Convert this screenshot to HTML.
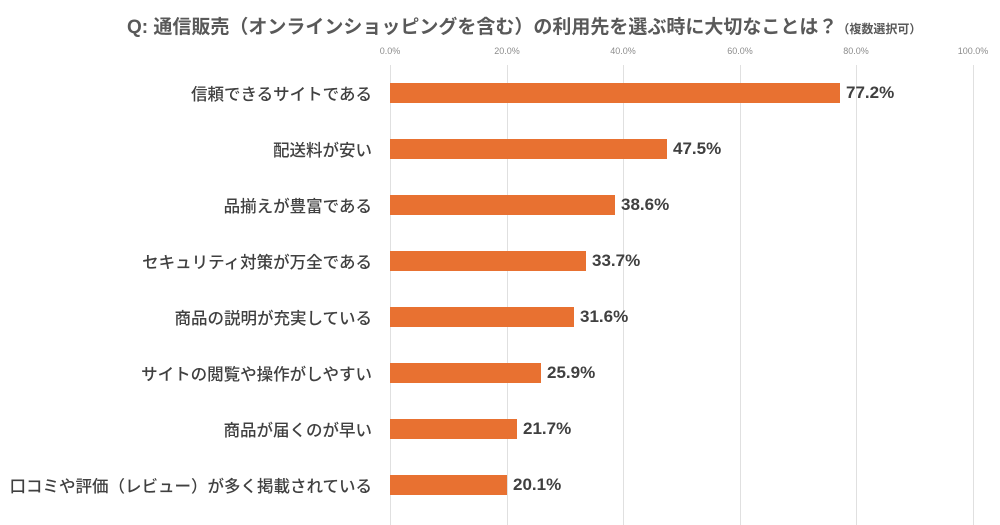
<!DOCTYPE html>
<html><head><meta charset="utf-8"><style>
body{margin:0;width:1000px;height:525px;background:#fff;overflow:hidden;font-family:"Liberation Sans","Noto Sans CJK JP",sans-serif;position:relative}
.t{position:absolute;left:127px;top:12px;font-size:19px;font-weight:bold;color:#595959;white-space:nowrap}
.t small{font-size:12px}
.tk{position:absolute;top:46px;font-size:9px;color:#8c8c8c;transform:translateX(-50%)}
.g{position:absolute;top:65px;height:460px;width:1px;background:#e0e0e0}
.l{position:absolute;right:628px;font-size:16.5px;font-weight:500;color:#404040;white-space:nowrap;transform:translateY(-50%)}
.b{position:absolute;left:390px;height:20px;background:#e87131;transform:translateY(-50%)}
.v{position:absolute;font-size:17px;font-weight:bold;color:#404040;transform:translateY(-50%)}
</style></head><body>
<div class="t">Q: 通信販売（オンラインショッピングを含む）の利用先を選ぶ時に大切なことは？<small>（複数選択可）</small></div>
<div class="tk" style="left:390px">0.0%</div><div class="tk" style="left:507px">20.0%</div><div class="tk" style="left:623px">40.0%</div><div class="tk" style="left:740px">60.0%</div><div class="tk" style="left:856px">80.0%</div><div class="tk" style="left:973px">100.0%</div>
<div class="g" style="left:390px"></div><div class="g" style="left:507px"></div><div class="g" style="left:623px"></div><div class="g" style="left:740px"></div><div class="g" style="left:856px"></div><div class="g" style="left:973px"></div>

<div class="l" style="top:93px">信頼できるサイトである</div><div class="b" style="top:93px;width:450px"></div><div class="v" style="top:93px;left:846px">77.2%</div>
<div class="l" style="top:149px">配送料が安い</div><div class="b" style="top:149px;width:277px"></div><div class="v" style="top:149px;left:673px">47.5%</div>
<div class="l" style="top:205px">品揃えが豊富である</div><div class="b" style="top:205px;width:225px"></div><div class="v" style="top:205px;left:621px">38.6%</div>
<div class="l" style="top:261px">セキュリティ対策が万全である</div><div class="b" style="top:261px;width:196px"></div><div class="v" style="top:261px;left:592px">33.7%</div>
<div class="l" style="top:317px">商品の説明が充実している</div><div class="b" style="top:317px;width:184px"></div><div class="v" style="top:317px;left:580px">31.6%</div>
<div class="l" style="top:373px">サイトの閲覧や操作がしやすい</div><div class="b" style="top:373px;width:151px"></div><div class="v" style="top:373px;left:547px">25.9%</div>
<div class="l" style="top:429px">商品が届くのが早い</div><div class="b" style="top:429px;width:127px"></div><div class="v" style="top:429px;left:523px">21.7%</div>
<div class="l" style="top:485px">口コミや評価（レビュー）が多く掲載されている</div><div class="b" style="top:485px;width:117px"></div><div class="v" style="top:485px;left:513px">20.1%</div>
</body></html>
